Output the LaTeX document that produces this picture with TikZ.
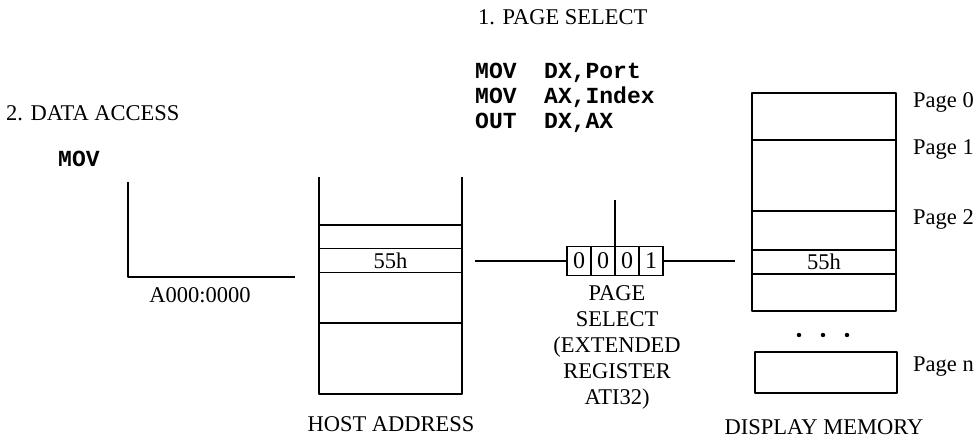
\documentclass[tikz,border=0pt]{standalone}
\usepackage{fontspec}
\setmainfont{Liberation Serif}
\newfontfamily\codefont{Liberation Mono}
\usetikzlibrary{positioning}

\begin{document}
\begin{tikzpicture}[x=1pt, y=-1pt,
    heavy/.style={line width=2.6pt, line join=round},
    light/.style={line width=1.1pt},
    txt/.style={font=\fontsize{22.5}{26}\selectfont, inner sep=0pt},
    code/.style={font=\codefont\bfseries\fontsize{23}{25}\selectfont, inner sep=0pt},
    regcell/.style={draw, light, minimum width=24pt, minimum height=29pt,
        inner sep=0pt, outer sep=0pt, font=\fontsize{24}{26}\selectfont},
    memrow/.style={draw, light, minimum height=24pt, inner sep=0pt,
        font=\fontsize{22.5}{26}\selectfont}
]

    % Fix the page to the size of the reference
    \useasboundingbox (0,0) rectangle (979,443);

    % Headings and the code of both steps
    \node[txt, anchor=base west] (datahead) at (6,121) {2. DATA ACCESS};
    \node[code, anchor=base west] (movleft) at (58,167) {MOV};
    \node[txt, anchor=base west] (pshead) at (478,25) {1. PAGE SELECT};
    \node[code, anchor=base west] (code1) at (475,79) {MOV\ \ DX,Port};
    \node[code, anchor=base west] (code2) at (475,104) {MOV\ \ AX,Index};
    \node[code, anchor=base west] (code3) at (475,129) {OUT\ \ DX,AX};

    % Address line of the MOV
    \coordinate (movtop) at (128,182);
    \coordinate (movfoot) at (128,277);
    \coordinate (movend) at (295,277);
    \draw[heavy] (movtop) -- (movfoot) -- (movend);
    \node[txt, anchor=base] (seglbl) at (200,303) {A000:0000};

    % Host address window (open at the top)
    \node[memrow, minimum width=143pt] (hdat) at (390.5,260.5) {55h};
    \draw[heavy] (319,177) -- (319,394) -- (462,394) -- (462,177);
    \draw[heavy] (319,225) -- (462,225);
    \draw[heavy] (319,323) -- (462,323);
    \node[txt, anchor=base] (hostlbl) at (391,431) {HOST ADDRESS};

    % Page select register
    \node[regcell] (r1) at (579,261) {0};
    \node[regcell] (r2) [right=0pt of r1] {0};
    \node[regcell] (r3) [right=0pt of r2] {0};
    \node[regcell] (r4) [right=0pt of r3] {1};
    \node[txt, anchor=north, align=center] (reglbl) at (617,285)
        {PAGE\\SELECT\\(EXTENDED\\REGISTER\\ATI32)};

    % Lines into and out of the register
    \coordinate (hostout) at (475,261);
    \coordinate (dispin) at (735,261);
    \coordinate (pselin) at (615,200);
    \draw[heavy] (hostout) -- (r1.west);
    \draw[heavy] (r4.east) -- (dispin);
    \draw[heavy] (pselin) -- (r2.north east);

    % Display memory pages
    \draw[heavy] (752,93) rectangle (896,311);
    \draw[heavy] (752,140) -- (896,140);
    \draw[light] (752,211) -- (896,211);
    \node[memrow, minimum width=144pt] (ddat) at (824,262) {55h};
    \foreach \x in {799,823,847}
        \fill (\x,335) circle (2.2pt);
    \node[draw, heavy, minimum width=142pt, minimum height=41pt] (pagen) at (826,372.5) {};

    % Page labels
    \node[txt, anchor=base west] (pg0) at (913,108) {Page 0};
    \node[txt, anchor=base west] (pg1) at (913,155) {Page 1};
    \node[txt, anchor=base west] (pg2) at (913,225) {Page 2};
    \node[txt, anchor=base west] (pgn) at (913,371) {Page n};
    \node[txt, anchor=base] (displbl) at (824,434) {DISPLAY MEMORY};

\end{tikzpicture}
\end{document}
